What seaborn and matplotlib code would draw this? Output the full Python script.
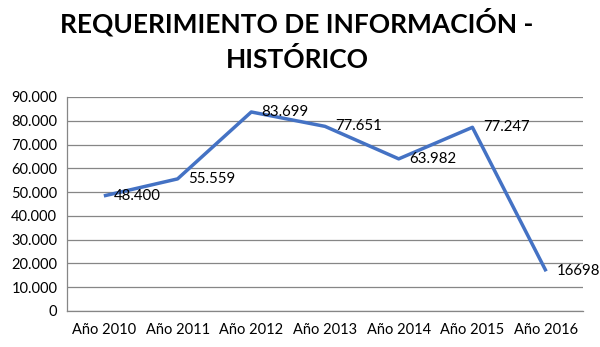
import matplotlib
matplotlib.use("Agg")
import matplotlib.pyplot as plt
import matplotlib.ticker as mticker
import seaborn as sns
import pandas as pd

categories = ["Año 2010", "Año 2011", "Año 2012", "Año 2013", "Año 2014", "Año 2015", "Año 2016"]
values = [48400, 55559, 83699, 77651, 63982, 77247, 16698]
point_labels = ["48.400", "55.559", "83.699", "77.651", "63.982", "77.247", "16698"]
title_lines = ["REQUERIMIENTO DE INFORMACIÓN -", "HISTÓRICO"]

sns.set_theme(style="white")
plt.rcParams["font.family"] = ["Lato", "DejaVu Sans"]

df = pd.DataFrame({"pos": range(len(categories)), "value": values})

fig = plt.figure(figsize=(6.0, 3.47), dpi=100)
ax = fig.add_axes([67/600, 1-311/347, (583-67)/600, (311-97)/347])

sns.lineplot(data=df, x="pos", y="value", ax=ax, color="#4472C4", linewidth=2.5,
             solid_joinstyle="round", solid_capstyle="butt")

for x, y, lab in zip(df["pos"], df["value"], point_labels):
    ax.annotate(lab, (x, y), xytext=(7.5, 0), textcoords="offset points",
                ha="left", va="center", fontsize=10.8, color="#000000",
                annotation_clip=False)

ax.set_xlim(-0.5, len(categories) - 0.5)
ax.set_ylim(0, 90000)
ax.yaxis.set_major_locator(mticker.MultipleLocator(10000))
ax.yaxis.set_major_formatter(mticker.FuncFormatter(lambda v, p: f"{int(v):,}".replace(",", ".")))
ax.set_xticks(range(len(categories)))
ax.set_xticklabels(categories)
ax.set_xticks([i - 0.5 for i in range(len(categories) + 1)], minor=True)
ax.tick_params(axis="x", which="major", length=0, pad=9, labelsize=10.5, labelcolor="#000000")
ax.tick_params(axis="x", which="minor", length=6, width=0.9, color="#868686", direction="out")
ax.tick_params(axis="y", which="major", length=5, width=0.9, color="#868686", direction="out",
               labelsize=10.5, labelcolor="#000000", pad=2)
ax.set_xlabel("")
ax.set_ylabel("")
ax.grid(axis="y", color="#868686", linewidth=0.9)
ax.grid(axis="x", visible=False)
for s in ["top", "right"]:
    ax.spines[s].set_visible(False)
for s in ["left", "bottom"]:
    ax.spines[s].set_color("#868686")
    ax.spines[s].set_linewidth(0.9)

fig.text(297/600, 1-33/347, title_lines[0], ha="center", va="baseline",
         fontsize=19, fontweight="bold", color="#000000")
fig.text(297/600, 1-68/347, title_lines[1], ha="center", va="baseline",
         fontsize=19, fontweight="bold", color="#000000")

fig.savefig("out.png", dpi=100)
